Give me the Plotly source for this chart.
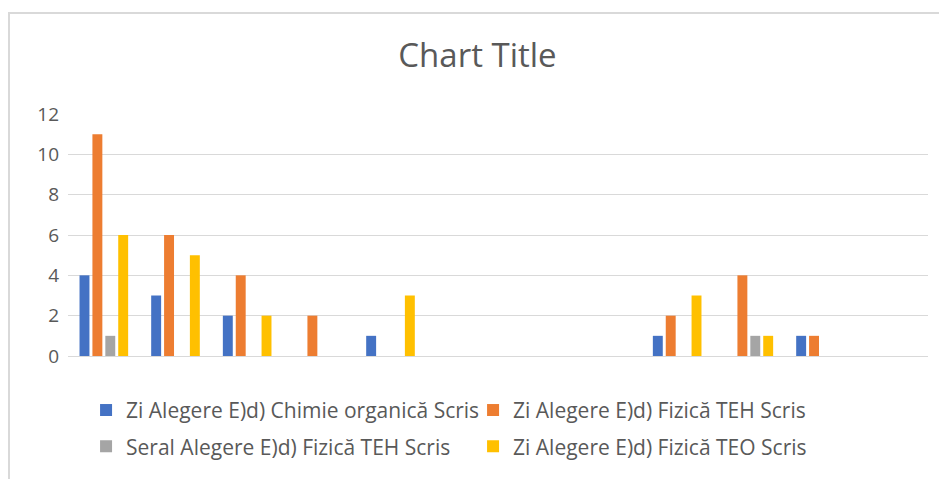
import plotly.graph_objects as go

# categorii (etichetele axei X nu apar în grafic)
categories = ["1", "2", "3", "4", "5", "6", "7", "8", "9", "10", "11", "12"]

zi_chimie_organica = [4, 3, 2, 0, 1, 0, 0, 0, 1, 0, 1, 0]
zi_fizica_teh = [11, 6, 4, 2, 0, 0, 0, 0, 2, 4, 1, 0]
seral_fizica_teh = [1, 0, 0, 0, 0, 0, 0, 0, 0, 1, 0, 0]
zi_fizica_teo = [6, 5, 2, 0, 3, 0, 0, 0, 3, 1, 0, 0]

series = [
    ("Zi Alegere E)d) Chimie organică Scris", zi_chimie_organica, "#4472C4", "legend"),
    ("Zi Alegere E)d) Fizică TEH Scris", zi_fizica_teh, "#ED7D31", "legend"),
    ("Seral Alegere E)d) Fizică TEH Scris", seral_fizica_teh, "#A5A5A5", "legend2"),
    ("Zi Alegere E)d) Fizică TEO Scris", zi_fizica_teo, "#FFC000", "legend2"),
]

FONT = "Open Sans"
GREY = "#595959"

fig = go.Figure()
for name, values, color, leg in series:
    fig.add_trace(go.Bar(
        x=categories,
        y=values,
        name=name,
        marker=dict(color=color, line=dict(width=0)),
        legend=leg,
    ))

legend_style = dict(
    orientation="h",
    x=0.021,
    xanchor="left",
    yanchor="top",
    font=dict(family=FONT, size=21, color=GREY),
    entrywidth=342,
    entrywidthmode="pixels",
    bgcolor="rgba(0,0,0,0)",
    traceorder="normal",
)

# pagina are o margine de 8px, deci figura e puțin mai mică
fig.update_layout(
    width=939,
    height=471,
    margin=dict(l=60, r=19, t=106, b=118),
    paper_bgcolor="white",
    plot_bgcolor="white",
    barmode="group",
    bargap=0.28,
    bargroupgap=0.23,
    title=dict(
        text="Chart Title",
        x=0.5,
        xanchor="center",
        y=1 - 47 / 471,
        yanchor="middle",
        font=dict(family=FONT, size=33, color=GREY),
    ),
    font=dict(family=FONT, color=GREY),
    xaxis=dict(
        showticklabels=False,
        showgrid=False,
        showline=False,
        zeroline=False,
        ticks="",
    ),
    yaxis=dict(
        range=[0, 12],
        dtick=2,
        showgrid=True,
        gridcolor="#D9D9D9",
        gridwidth=1,
        zeroline=True,
        zerolinecolor="#D9D9D9",
        zerolinewidth=1,
        showline=False,
        ticks="",
        ticklabelstandoff=8,
        tickfont=dict(family=FONT, size=19, color=GREY),
    ),
    legend=dict(y=-0.140, **legend_style),
    legend2=dict(y=-0.290, **legend_style),
    showlegend=True,
)

# chenarul graficului (doar marginile stânga și sus sunt vizibile)
fig.add_shape(
    type="rect",
    xref="paper", yref="paper",
    x0=-0.0686, x1=1.2, y0=-1.0, y1=1.417,
    line=dict(color="#D9D9D9", width=2),
    fillcolor="rgba(0,0,0,0)",
    layer="below",
)

fig.write_html("out.html")
